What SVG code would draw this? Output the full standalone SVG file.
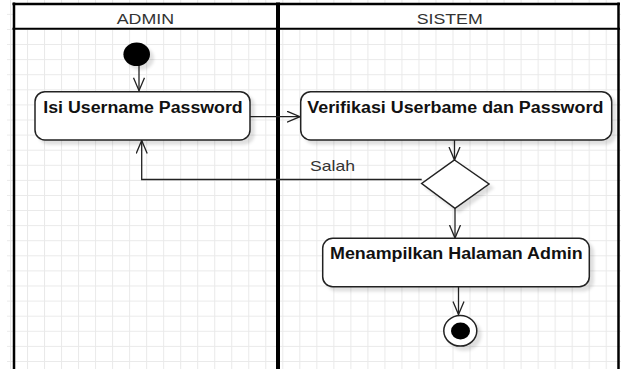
<svg xmlns="http://www.w3.org/2000/svg" width="621" height="369" viewBox="0 0 621 369">
<style>
.lane{fill:none;stroke:#000}
.hdr{font-family:"Liberation Sans",Arial,sans-serif;font-size:15.5px;fill:#333}
.act{fill:#fff;stroke:#222;stroke-width:1.5}
.lbl{font-family:"Liberation Sans",Arial,sans-serif;font-size:16px;font-weight:bold;fill:#111}
.edge{fill:none;stroke:#222;stroke-width:1.3}
.elbl{font-family:"Liberation Sans",Arial,sans-serif;font-size:15px;fill:#333}
</style>
<defs>
<pattern id="grid" patternUnits="userSpaceOnUse" x="10" y="13.9" width="17.02" height="15.09">
<path d="M0.5,0 V15.09 M0,0.5 H17.02" fill="none" stroke="#e9e9e9" stroke-width="1"/>
</pattern>
<filter id="sh" x="-20%" y="-20%" width="150%" height="160%">
<feDropShadow dx="4" dy="4" stdDeviation="1.5" flood-color="#000" flood-opacity="0.12"/>
</filter>
<marker id="arr" markerUnits="userSpaceOnUse" markerWidth="16" markerHeight="14" refX="13.5" refY="6" orient="auto">
<path d="M0.5,0.5 L13.5,6 L0.5,11.5" fill="none" stroke="#222" stroke-width="1.3"/>
</marker>
</defs>
<rect x="0" y="0" width="621" height="369" fill="#fff"/>
<rect x="7" y="0" width="614" height="369" fill="url(#grid)"/>
<g id="lanes">
<rect x="14" y="4" width="604.5" height="25" fill="#fff"/>
<line class="lane" x1="14" y1="2.5" x2="14" y2="369" stroke-width="2.5"/>
<line class="lane" x1="278" y1="2.5" x2="278" y2="369" stroke-width="4"/>
<line class="lane" x1="618.5" y1="2.5" x2="618.5" y2="369" stroke-width="2.5"/>
<line class="lane" x1="12.5" y1="4" x2="620" y2="4" stroke-width="2.5"/>
<line class="lane" x1="12.5" y1="28.8" x2="620" y2="28.8" stroke-width="2"/>
<text class="hdr" x="116.7" y="24" textLength="57.3" lengthAdjust="spacingAndGlyphs">ADMIN</text>
<text class="hdr" x="416.7" y="24" textLength="66" lengthAdjust="spacingAndGlyphs">SISTEM</text>
</g>
<g id="connectors">
<line class="edge" x1="139" y1="66" x2="139" y2="90.7" marker-end="url(#arr)"/>
<line class="edge" x1="250" y1="116.7" x2="300" y2="116.7" marker-end="url(#arr)"/>
<line class="edge" x1="454.5" y1="140" x2="454.5" y2="160" marker-end="url(#arr)"/>
<polyline class="edge" points="421.7,179.5 141.7,179.5 141.7,140.5" marker-end="url(#arr)"/>
<text class="elbl" x="310" y="170.7" textLength="45" lengthAdjust="spacingAndGlyphs">Salah</text>
<line class="edge" x1="455" y1="208.3" x2="455" y2="238" marker-end="url(#arr)"/>
<line class="edge" x1="458.5" y1="286.7" x2="458.5" y2="314.5" marker-end="url(#arr)"/>
</g>
<g id="start">
<ellipse cx="136.7" cy="54.3" rx="13.3" ry="11.8" fill="#000" filter="url(#sh)"/>
</g>
<g id="isi">
<rect class="act" x="35" y="91.7" width="215" height="48.3" rx="10" filter="url(#sh)"/>
<text class="lbl" x="43.3" y="113.3" textLength="199.4" lengthAdjust="spacingAndGlyphs">Isi Username Password</text>
</g>
<g id="verifikasi">
<rect class="act" x="300.7" y="91.7" width="311" height="48.3" rx="10" filter="url(#sh)"/>
<text class="lbl" x="307.3" y="113.3" textLength="296" lengthAdjust="spacingAndGlyphs">Verifikasi Userbame dan Password</text>
</g>
<g id="decision">
<polygon points="454.5,160 489,184 455,208.3 421.7,183.5" fill="#fff" stroke="#222" stroke-width="1.5" filter="url(#sh)"/>
</g>
<g id="menampilkan">
<rect class="act" x="322.7" y="238.3" width="266.6" height="48.4" rx="10" filter="url(#sh)"/>
<text class="lbl" x="330" y="259.4" textLength="252.7" lengthAdjust="spacingAndGlyphs">Menampilkan Halaman Admin</text>
</g>
<g id="end">
<ellipse cx="460.3" cy="330.8" rx="16.5" ry="15.3" fill="#fff" stroke="#222" stroke-width="1.5" filter="url(#sh)"/>
<ellipse cx="460.5" cy="331" rx="9.5" ry="8.5" fill="#000"/>
</g>
</svg>
